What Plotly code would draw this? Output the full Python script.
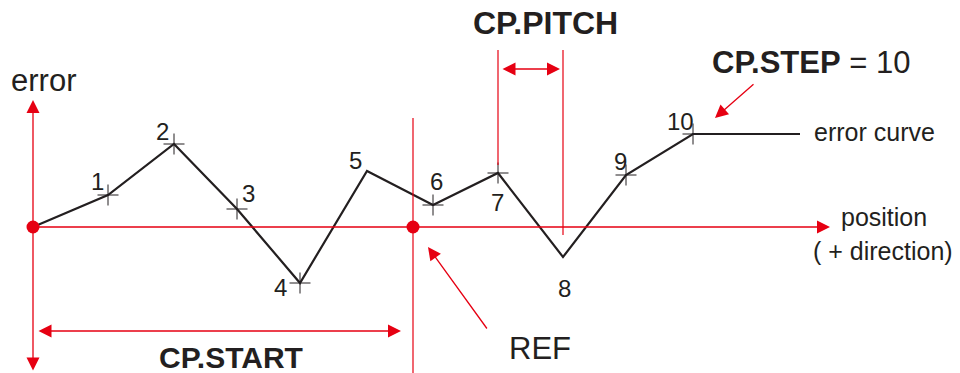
import plotly.graph_objects as go

# Compensation points (position along axis, error value)
point_labels = ['1', '2', '3', '4', '5', '6', '7', '8', '9', '10']
positions    = [75, 141, 204, 267, 334, 400, 465, 530, 593, 660]
errors       = [32, 83, 18, -56, 56, 22, 54, -30, 52, 93]
has_cross    = [True, True, True, True, False, True, True, False, True, True]

origin_pos = 0
ref_pos    = 380
curve_end  = 767
axis_end   = 797

RED  = '#e60012'
INK  = '#231f20'
FONT = 'Liberation Sans, Arial, Helvetica, sans-serif'

# label offsets (px) relative to each point
label_dx = [-11, -12, 11, -20, -12, 3, -1, 1, -6, -13]
label_dy = [14, 13, 16, -4, 11, 24, -29, -31, 14, 13]

fig = go.Figure()

# error curve
fig.add_trace(go.Scatter(x=[origin_pos] + positions + [curve_end],
                         y=[0] + errors + [errors[-1]],
                         mode='lines', line=dict(color=INK, width=2.2),
                         hoverinfo='skip'))

# crosses at measured points
cx = [p for p, c in zip(positions, has_cross) if c]
cy = [e for e, c in zip(errors, has_cross) if c]
fig.add_trace(go.Scatter(x=cx, y=cy, mode='markers',
                         marker=dict(symbol='cross-thin', size=15,
                                     line=dict(width=1, color=INK)),
                         hoverinfo='skip'))

# guide lines
top_pitch = 177
fig.add_trace(go.Scatter(x=[ref_pos, ref_pos], y=[109, -146], mode='lines',
                         line=dict(color=RED, width=1.2), hoverinfo='skip'))
fig.add_trace(go.Scatter(x=[positions[6], positions[6]], y=[top_pitch, errors[6] + 8],
                         mode='lines', line=dict(color=RED, width=1.2), hoverinfo='skip'))
fig.add_trace(go.Scatter(x=[positions[7], positions[7]], y=[top_pitch, -8],
                         mode='lines', line=dict(color=RED, width=1.2), hoverinfo='skip'))

# red dots: origin and REF
fig.add_trace(go.Scatter(x=[origin_pos, ref_pos], y=[0, 0], mode='markers',
                         marker=dict(color=RED, size=13), hoverinfo='skip'))

def arrow(x0, y0, x1, y1, both=False):
    fig.add_annotation(x=x1, y=y1, ax=x0, ay=y0, xref='x', yref='y',
                       axref='x', ayref='y', text='', showarrow=True,
                       arrowhead=2, arrowsize=2, arrowwidth=1.3,
                       arrowcolor=RED, arrowside='end+start' if both else 'end')

# axes
arrow(origin_pos, 0, axis_end, 0)
arrow(origin_pos, -145, origin_pos, 127, both=True)
# CP.PITCH and CP.START dimensions
arrow(positions[6] + 3, 158, positions[7] - 3, 158, both=True)
arrow(origin_pos + 4, -104, ref_pos - 12, -104, both=True)
# pointers
arrow(455, -103, 395, -20)
arrow(722, 144, 682, 109)

# point labels
for lab, x, y, dx, dy in zip(point_labels, positions, errors, label_dx, label_dy):
    fig.add_annotation(x=x, y=y, text=lab, showarrow=False, xshift=dx, yshift=dy,
                       font=dict(size=24, color=INK, family=FONT))

def label(x, y, text, size, anchor='center'):
    fig.add_annotation(x=x, y=y, text=text, showarrow=False, xanchor=anchor,
                       font=dict(size=size, color=INK, family=FONT))

label(10, 147, 'error', 31)
label(512, 204, '<b>CP.PITCH</b>', 32)
label(677, 165, '<b>CP.STEP</b> = 10', 31, 'left')
label(779, 95, 'error curve', 25, 'left')
label(851, 10, 'position', 25)
label(850, -24, '( + direction)', 25)
label(198, -130, '<b>CP.START</b>', 30)
label(507, -121, 'REF', 31)

fig.update_layout(width=960, height=373, margin=dict(l=0, r=0, t=0, b=0),
                  plot_bgcolor='white', paper_bgcolor='white', showlegend=False,
                  xaxis=dict(range=[-33, 927], visible=False, fixedrange=True),
                  yaxis=dict(range=[-146, 227], visible=False, fixedrange=True))

fig.write_html("out.html", config={'displayModeBar': False},
               post_script="document.body.style.margin='0';")
